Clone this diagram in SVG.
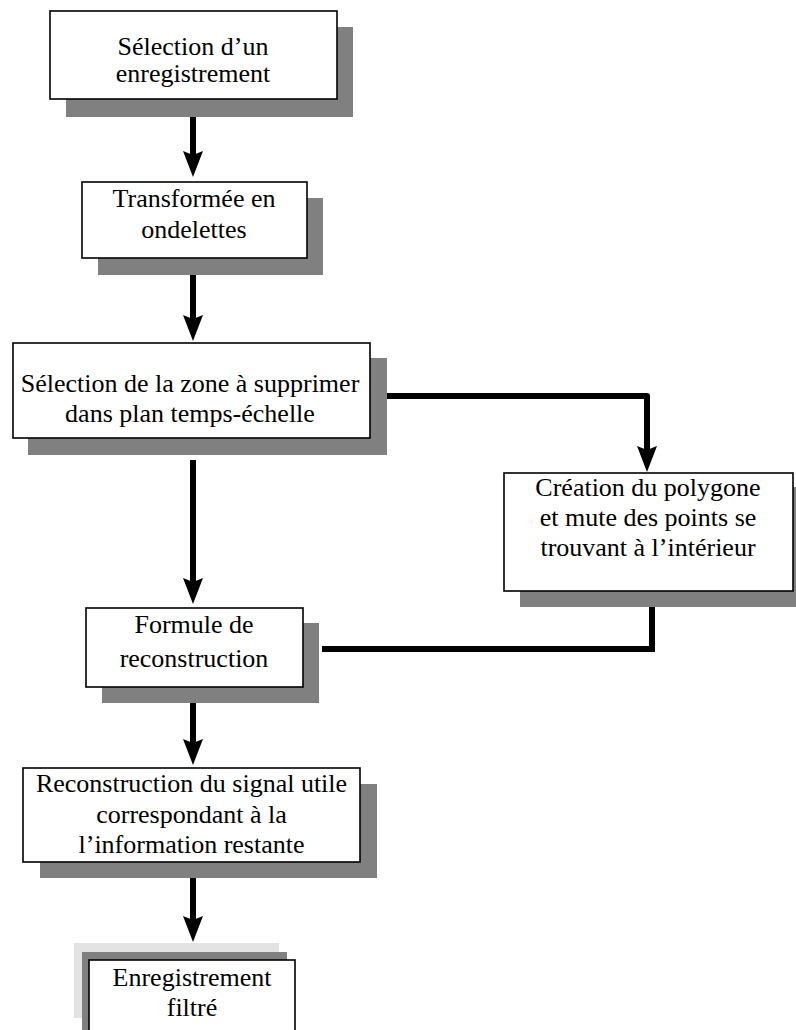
<svg xmlns="http://www.w3.org/2000/svg" width="796" height="1030" viewBox="0 0 796 1030">
  <defs>
    <style>
      .shadow { fill: #808080; }
      .shadow-light { fill: #e3e3e3; }
      .box { fill: #ffffff; stroke: #000000; stroke-width: 1.6; }
      .label { font-family: "Liberation Serif", "Times New Roman", serif; font-size: 26px; fill: #000000; text-anchor: middle; }
      .flow { fill: none; stroke: #000000; stroke-width: 6; }
    </style>
    <!-- tip lies 15px past the end of the line it is attached to -->
    <marker id="arrowhead" markerUnits="userSpaceOnUse" markerWidth="26" markerHeight="20" viewBox="0 0 26 20" refX="11" refY="10" orient="auto">
      <path d="M0,0 L26,10 L0,20 L4,10 Z" fill="#000000"/>
    </marker>
  </defs>
  <rect width="796" height="1030" fill="#ffffff"/>

  <g id="connectors">
    <line class="flow" x1="193" y1="110" x2="193" y2="162" marker-end="url(#arrowhead)"/>
    <line class="flow" x1="193" y1="272" x2="193" y2="326" marker-end="url(#arrowhead)"/>
    <line class="flow" x1="193" y1="460" x2="193" y2="589" marker-end="url(#arrowhead)"/>
    <line class="flow" x1="193" y1="700" x2="193" y2="750" marker-end="url(#arrowhead)"/>
    <line class="flow" x1="193" y1="875" x2="193" y2="927" marker-end="url(#arrowhead)"/>
    <path class="flow" d="M377,396 H647 V457" stroke-linecap="round" stroke-linejoin="round" marker-end="url(#arrowhead)"/>
    <path class="flow" d="M652,591 V649 H322" stroke-linejoin="miter"/>
  </g>

  <g id="node-selection">
    <rect class="shadow" x="66" y="27" width="287" height="90"/>
    <rect class="box" x="50" y="11" width="287" height="88"/>
    <text class="label" x="193" y="55">Sélection d’un</text>
    <text class="label" x="193" y="82">enregistrement</text>
  </g>

  <g id="node-ondelettes">
    <rect class="shadow" x="98" y="198" width="225" height="77"/>
    <rect class="box" x="82" y="182" width="225" height="76"/>
    <text class="label" x="194" y="207">Transformée en</text>
    <text class="label" x="194" y="238">ondelettes</text>
  </g>

  <g id="node-zone">
    <rect class="shadow" x="28" y="358" width="359" height="97"/>
    <rect class="box" x="13" y="343" width="357" height="95"/>
    <text class="label" x="190" y="392">Sélection de la zone à supprimer</text>
    <text class="label" x="190" y="422">dans plan temps-échelle</text>
  </g>

  <g id="node-polygone">
    <rect class="shadow" x="520" y="487" width="280" height="120"/>
    <rect class="box" x="504" y="473" width="289" height="118"/>
    <text class="label" x="648" y="496">Création du polygone</text>
    <text class="label" x="648" y="526">et mute des points se</text>
    <text class="label" x="648" y="556">trouvant à l’intérieur</text>
  </g>

  <g id="node-formule">
    <rect class="shadow" x="102" y="623" width="217" height="80"/>
    <rect class="box" x="86" y="608" width="217" height="79"/>
    <text class="label" x="194" y="633">Formule de</text>
    <text class="label" x="194" y="667">reconstruction</text>
  </g>

  <g id="node-signal">
    <rect class="shadow" x="40" y="784" width="337" height="94"/>
    <rect class="box" x="23" y="768" width="337" height="94"/>
    <text class="label" x="191.5" y="792">Reconstruction du signal utile</text>
    <text class="label" x="191.5" y="823">correspondant à la</text>
    <text class="label" x="191.5" y="853">l’information restante</text>
  </g>

  <g id="node-filtre">
    <rect class="shadow-light" x="74" y="943" width="205" height="75"/>
    <rect class="shadow" x="82" y="952" width="205" height="90"/>
    <rect class="box" x="89" y="960" width="206" height="80"/>
    <text class="label" x="192" y="986">Enregistrement</text>
    <text class="label" x="192" y="1016">filtré</text>
  </g>
</svg>
